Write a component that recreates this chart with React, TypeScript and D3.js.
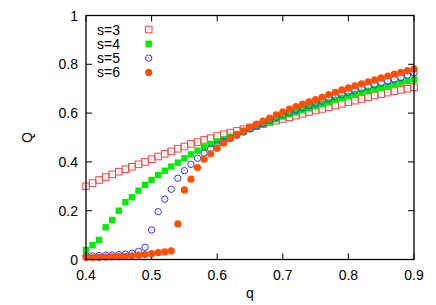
import * as d3 from "d3";
import { useEffect, useRef } from "react";

const qValues = d3.range(51).map((i) => +(0.4 + i * 0.01).toFixed(2));

const s3 = [
  0.300, 0.313, 0.326, 0.338, 0.349, 0.360, 0.370, 0.380, 0.390, 0.400,
  0.411, 0.422, 0.433, 0.443, 0.454, 0.463, 0.474, 0.481, 0.490, 0.497,
  0.506, 0.513, 0.520, 0.527, 0.534, 0.541, 0.548, 0.555, 0.562, 0.569,
  0.576, 0.583, 0.590, 0.597, 0.604, 0.611, 0.617, 0.624, 0.631, 0.638,
  0.645, 0.651, 0.658, 0.665, 0.672, 0.678, 0.684, 0.690, 0.695, 0.700,
  0.706,
];
const s4 = [
  0.039, 0.059, 0.080, 0.132, 0.162, 0.200, 0.235, 0.255, 0.282, 0.306,
  0.326, 0.346, 0.364, 0.381, 0.397, 0.415, 0.431, 0.446, 0.460, 0.474,
  0.484, 0.493, 0.503, 0.513, 0.524, 0.535, 0.545, 0.555, 0.565, 0.575,
  0.586, 0.595, 0.603, 0.612, 0.620, 0.629, 0.637, 0.645, 0.654, 0.662,
  0.670, 0.677, 0.684, 0.691, 0.698, 0.704, 0.711, 0.718, 0.725, 0.732,
  0.738,
];
const s5 = [
  0.015, 0.015, 0.016, 0.017, 0.018, 0.020, 0.022, 0.026, 0.033, 0.050,
  0.121, 0.196, 0.247, 0.288, 0.333, 0.364, 0.390, 0.415, 0.436, 0.453,
  0.470, 0.483, 0.496, 0.509, 0.522, 0.535, 0.547, 0.558, 0.570, 0.582,
  0.593, 0.603, 0.613, 0.622, 0.631, 0.640, 0.649, 0.658, 0.667, 0.676,
  0.684, 0.692, 0.700, 0.708, 0.716, 0.724, 0.731, 0.738, 0.746, 0.756,
  0.765,
];
const s6 = [
  0.008, 0.008, 0.009, 0.010, 0.011, 0.012, 0.013, 0.015, 0.017, 0.020,
  0.024, 0.028, 0.031, 0.035, 0.146, 0.285, 0.329, 0.377, 0.411, 0.433,
  0.456, 0.477, 0.495, 0.511, 0.527, 0.542, 0.555, 0.567, 0.580, 0.593,
  0.605, 0.616, 0.627, 0.637, 0.646, 0.655, 0.665, 0.676, 0.685, 0.695,
  0.703, 0.712, 0.720, 0.728, 0.736, 0.744, 0.752, 0.760, 0.767, 0.774,
  0.781,
];

const xTicks = [0.4, 0.5, 0.6, 0.7, 0.8, 0.9];
const yTicks = [0, 0.2, 0.4, 0.6, 0.8, 1];
const seriesNames = ["s=3", "s=4", "s=5", "s=6"];

export default function App() {
  const svgRef = useRef<SVGSVGElement | null>(null);

  useEffect(() => {
    if (!svgRef.current) return;
    const width = 436;
    const height = 305;
    const margin = { top: 15.5, right: 22, bottom: 45.5, left: 86 };
    const font = "'Liberation Sans', Arial, sans-serif";

    d3.select(svgRef.current).selectAll("*").remove();
    const svg = d3.select(svgRef.current).attr("width", width).attr("height", height);

    const x = d3.scaleLinear().domain([0.4, 0.9]).range([margin.left, width - margin.right]);
    const y = d3.scaleLinear().domain([0, 1]).range([height - margin.bottom, margin.top]);

    const x0 = x.range()[0], x1 = x.range()[1];
    const y0 = y.range()[0], y1 = y.range()[1];

    // tick marks (inward, all four sides)
    const tl = 6;
    const ticks = svg.append("g").attr("stroke", "#000").attr("stroke-width", 1);
    xTicks.forEach((t) => {
      ticks.append("line").attr("x1", x(t)).attr("x2", x(t)).attr("y1", y0).attr("y2", y0 - tl);
      ticks.append("line").attr("x1", x(t)).attr("x2", x(t)).attr("y1", y1).attr("y2", y1 + tl);
    });
    yTicks.forEach((t) => {
      ticks.append("line").attr("x1", x0).attr("x2", x0 + tl).attr("y1", y(t)).attr("y2", y(t));
      ticks.append("line").attr("x1", x1).attr("x2", x1 - tl).attr("y1", y(t)).attr("y2", y(t));
    });

    // tick labels
    svg
      .append("g")
      .selectAll("text")
      .data(xTicks)
      .join("text")
      .attr("x", (d) => x(d))
      .attr("y", y0 + 20)
      .attr("text-anchor", "middle")
      .attr("font-family", font)
      .attr("font-size", 14)
      .text((d) => d3.format(".1f")(d));

    svg
      .append("g")
      .selectAll("text")
      .data(yTicks)
      .join("text")
      .attr("x", x0 - 8)
      .attr("y", (d) => y(d) + 5)
      .attr("text-anchor", "end")
      .attr("font-family", font)
      .attr("font-size", 14)
      .text((d) => (d === 0 || d === 1 ? String(d) : d3.format(".1f")(d)));

    // axis titles
    svg
      .append("text")
      .attr("x", (x0 + x1) / 2)
      .attr("y", 298)
      .attr("text-anchor", "middle")
      .attr("font-family", font)
      .attr("font-size", 14)
      .text("q");
    svg
      .append("text")
      .attr("transform", `translate(32,${(y0 + y1) / 2}) rotate(-90)`)
      .attr("text-anchor", "middle")
      .attr("font-family", font)
      .attr("font-size", 14)
      .text("Q");

    const pts = (vals: number[]) => qValues.map((q, i) => ({ q, v: vals[i] }));

    const drawOpenSquare = (g: d3.Selection<SVGGElement, unknown, null, undefined>, cx: number, cy: number) => {
      g.append("rect")
        .attr("x", cx - 3.3)
        .attr("y", cy - 3.3)
        .attr("width", 6.6)
        .attr("height", 6.6)
        .attr("fill", "none")
        .attr("stroke", "#ff4040")
        .attr("stroke-width", 1);
      g.append("rect").attr("x", cx - 0.5).attr("y", cy - 0.5).attr("width", 1).attr("height", 1).attr("fill", "#ff8080");
    };
    const drawFilledSquare = (g: d3.Selection<SVGGElement, unknown, null, undefined>, cx: number, cy: number) => {
      g.append("rect")
        .attr("x", cx - 3.2)
        .attr("y", cy - 3.2)
        .attr("width", 6.4)
        .attr("height", 6.4)
        .attr("fill", "#00ee00");
    };
    const drawOpenCircle = (g: d3.Selection<SVGGElement, unknown, null, undefined>, cx: number, cy: number) => {
      g.append("circle").attr("cx", cx).attr("cy", cy).attr("r", 3.2).attr("fill", "none").attr("stroke", "#3333ff").attr("stroke-width", 1);
      g.append("rect").attr("x", cx - 0.5).attr("y", cy - 0.5).attr("width", 1).attr("height", 1).attr("fill", "#8080ff");
    };
    const drawFilledCircle = (g: d3.Selection<SVGGElement, unknown, null, undefined>, cx: number, cy: number) => {
      g.append("circle").attr("cx", cx).attr("cy", cy).attr("r", 3.6).attr("fill", "#ff4f00");
    };

    const series = [
      { vals: s3, draw: drawOpenSquare },
      { vals: s4, draw: drawFilledSquare },
      { vals: s5, draw: drawOpenCircle },
      { vals: s6, draw: drawFilledCircle },
    ];

    series.forEach((s) => {
      const g = svg.append("g");
      pts(s.vals).forEach((p) => s.draw(g, x(p.q), y(p.v)));
    });

    // legend
    const legend = svg.append("g");
    seriesNames.forEach((name, i) => {
      const ly = 29.5 + i * 14.3;
      legend
        .append("text")
        .attr("x", 97)
        .attr("y", ly + 5)
        .attr("font-family", font)
        .attr("font-size", 14)
        .text(name);
      series[i].draw(legend, 148.7, ly);
    });

    // frame
    svg
      .append("rect")
      .attr("x", x0)
      .attr("y", y1)
      .attr("width", x1 - x0)
      .attr("height", y0 - y1)
      .attr("fill", "none")
      .attr("stroke", "#000")
      .attr("stroke-width", 1.3);
  }, []);

  return <svg ref={svgRef} style={{ position: "absolute", left: 0, top: 0 }} />;
}
